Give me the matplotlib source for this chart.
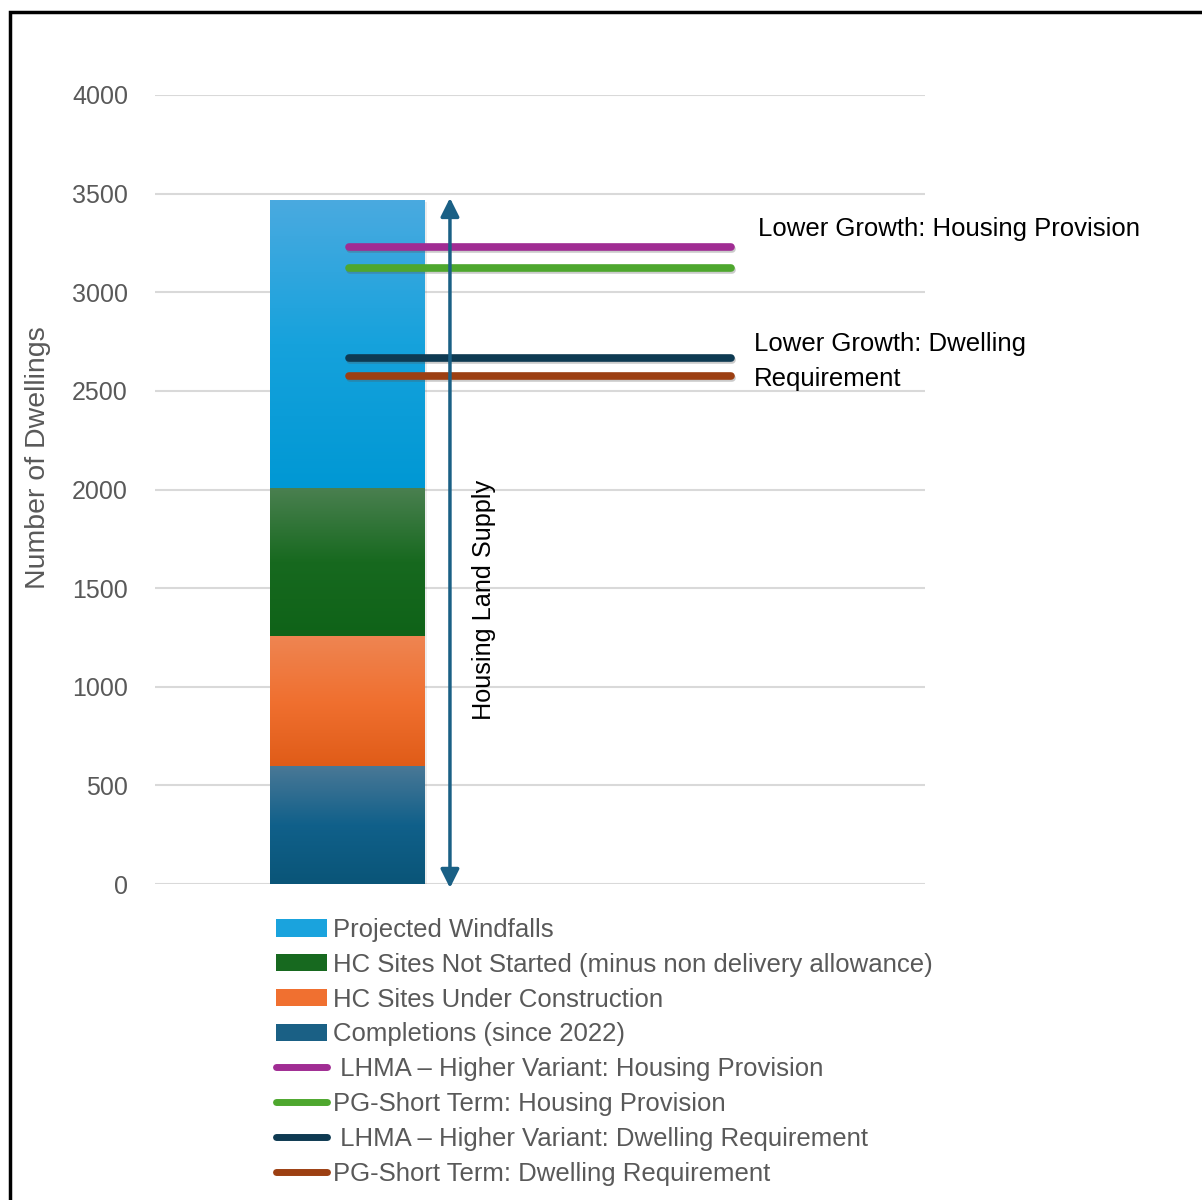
import numpy as np
import matplotlib
matplotlib.use("Agg")
import matplotlib.pyplot as plt
import matplotlib.patheffects as pe
from matplotlib.colors import LinearSegmentedColormap
from matplotlib.patches import Patch, Rectangle
from matplotlib.lines import Line2D

# stacked bar segments, bottom to top
segments = ["Completions (since 2022)", "HC Sites Under Construction",
            "HC Sites Not Started (minus non delivery allowance)", "Projected Windfalls"]
seg_values = [598, 660, 750, 1460]

# target lines
targets = [" LHMA \u2013 Higher Variant: Housing Provision", "PG-Short Term: Housing Provision",
           " LHMA \u2013 Higher Variant: Dwelling Requirement", "PG-Short Term: Dwelling Requirement"]
target_values = [3229, 3123, 2667, 2575]

yticks = [0, 500, 1000, 1500, 2000, 2500, 3000, 3500, 4000]

seg_grad = [["#4a7896", "#10608a", "#0a5578"],
            ["#ee8552", "#f07030", "#e05c18"],
            ["#4a8050", "#17691f", "#0f6318"],
            ["#4aaae0", "#16a2dc", "#0098d4"]]
seg_mid = ["#1a6085", "#f07030", "#17691f", "#1aa3dd"]
target_colors = ["#a02c93", "#4ea72e", "#0e3a52", "#9c3f12"]

tick_font = ["Liberation Sans", "DejaVu Sans"]
leg_font = ["Liberation Sans Narrow", "Liberation Sans", "DejaVu Sans"]

fig = plt.figure(figsize=(12.02, 12), dpi=100)
ax = fig.add_axes([155 / 1202, 1 - 884 / 1200, 770 / 1202, 789 / 1200])

# gradient bar
bottom = 0
for vals, cols in zip(seg_values, seg_grad):
    cmap = LinearSegmentedColormap.from_list("g", cols[::-1])
    grad = np.linspace(0, 1, 256).reshape(-1, 1)
    ax.imshow(grad, cmap=cmap, extent=[-0.5, 0.5, bottom, bottom + vals],
              origin="lower", aspect="auto", zorder=2)
    bottom += vals
ax.add_patch(Rectangle((-0.5 + 0.015, -10), 1.0, bottom, color="#000000", alpha=0.07,
                       zorder=1.5, lw=0))
ax.set_aspect("auto")
ax.set_xlim(-1.242, 3.726)
ax.set_ylim(0, 4000)

# target lines
shadow = [pe.SimpleLineShadow(offset=(1.0, -1.5), shadow_color="#555555", alpha=0.3), pe.Normal()]
for val, col in zip(target_values, target_colors):
    ax.plot([0.009, 2.475], [val, val], color=col, lw=5.5, solid_capstyle="round",
            zorder=4, path_effects=shadow)

# supply arrow
ax.annotate("", xy=(0.661, bottom + 10), xytext=(0.661, -20),
            arrowprops=dict(arrowstyle="<|-|>", color="#1a6085", lw=2.5, mutation_scale=28,
                            shrinkA=0, shrinkB=0), zorder=5)
ax.text(0.88, 1440, "Housing Land Supply", rotation=90, ha="center", va="center",
        fontsize=18.2, family=tick_font, color="black")

ax.text(2.65, 3320, "Lower Growth: Housing Provision", ha="left", va="center",
        fontsize=18.5, family=tick_font, color="black")
ax.text(2.62, 2740, "Lower Growth: Dwelling", ha="left", va="center",
        fontsize=18.5, family=tick_font, color="black")
ax.text(2.62, 2558, "Requirement", ha="left", va="center",
        fontsize=18.5, family=tick_font, color="black")

ax.set_yticks(yticks)
ax.set_yticklabels([str(t) for t in yticks], family=tick_font, fontsize=18, color="#595959")
ax.tick_params(axis="y", length=0, pad=19.5)
ax.set_xticks([])
ax.grid(axis="y", color="#d9d9d9", lw=1.5, zorder=0)
ax.set_axisbelow(True)
for s in ax.spines.values():
    s.set_visible(False)
ax.set_ylabel("Number of Dwellings", family=tick_font, fontsize=20.5, color="#595959",
              labelpad=15, y=0.54)

# legend
handles = []
labels = []
for name, col in zip(segments[::-1], seg_mid[::-1]):
    handles.append(Patch(facecolor=col, edgecolor="none"))
    labels.append(name)
for name, col in zip(targets, target_colors):
    handles.append(Line2D([0], [0], color=col, lw=5, solid_capstyle="round"))
    labels.append(name)
fig.legend(handles, labels, loc="upper left", bbox_to_anchor=(276 / 1202, 1 - 918 / 1200),
           frameon=False, prop={"family": leg_font, "size": 18.5}, labelcolor="#595959",
           handlelength=2.0, handleheight=0.65, handletextpad=0.2, labelspacing=0.42,
           borderpad=0, borderaxespad=0)

# outer frame
fig.add_artist(Rectangle((10 / 1202, -0.05), 1.2, 1 - 12 / 1200 + 0.05, transform=fig.transFigure,
                         fill=False, edgecolor="black", lw=2.5, clip_on=False))

fig.savefig("out.png", dpi=100)
